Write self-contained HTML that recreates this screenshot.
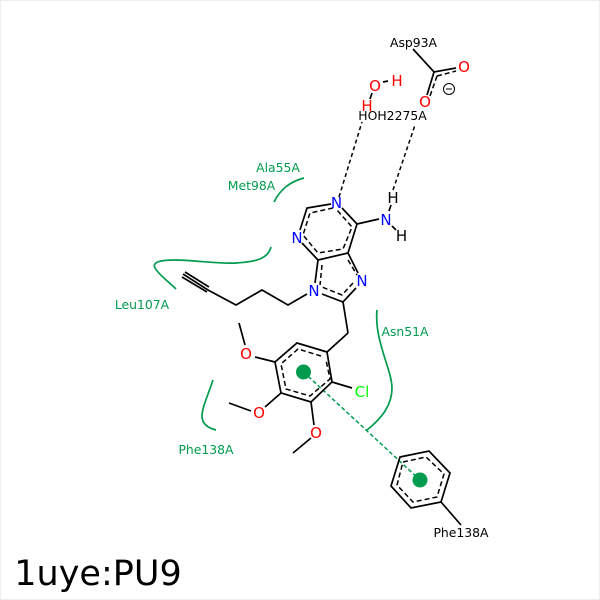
<!DOCTYPE html>
<html><head><meta charset="utf-8"><style>
html,body{margin:0;padding:0;background:#fff;width:600px;height:600px;overflow:hidden}
svg{display:block}
text{font-family:"DejaVu Sans",sans-serif;text-anchor:middle}
.a{font-size:15px}
.l{font-size:12.4px;fill:#000}
.g{font-size:12.4px;fill:#009b4e}
.s{stroke:#000;stroke-width:1.7;fill:none}
.d{stroke:#000;stroke-width:1.5;fill:none;stroke-dasharray:5 3}
.h{stroke:#000;stroke-width:1.5;fill:none;stroke-dasharray:4 3}
.c{stroke:#009b4e;stroke-width:1.7;fill:none}
</style></head><body>
<svg width="600" height="600" viewBox="0 0 600 600" xmlns="http://www.w3.org/2000/svg">
<rect x="0.5" y="0.5" width="599" height="599" fill="#fff" stroke="#eee"/>
<!-- green curves -->
<path class="c" d="M274 202C280 190 289 182 304 178"/>
<path class="c" d="M271 247C268 259 255 262 236 263C215 264 195 260 175 260C160 260 152 262 155 268C159 275 168 281 176 289"/>
<path class="c" d="M377 310C374 340 392 370 392 388C392 405 382 418 367 430"/>
<path class="c" d="M213 380C208 395 202 408 202 416C202 424 208 428 216 430"/>
<path d="M303.5 372L420 480" stroke="#009b4e" stroke-width="1.5" stroke-dasharray="4 2.5" fill="none"/>
<circle cx="303.5" cy="372" r="7.5" fill="#009b4e"/>
<circle cx="420" cy="480" r="7.5" fill="#009b4e"/>
<!-- purine -->
<path class="s" d="M331 204L307 208L300 230M302 243L318 260L348 253L357 224L342 208M357 224L379 219M348 253L358 273M356 288L343 302L322 294M318 260L315 283M343 302L348 333"/>
<path class="d" d="M333 208L310 213L303 235L318 253L343 249L352 227L337 210"/>
<path class="d" d="M348 260L357 275M353 283L342 295L322 287M322 265L320 285"/>
<path class="s" d="M389 211L391 205M392 226L396 230"/>
<!-- alkyl chain -->
<path class="s" d="M183 274L208 290L236 305L262 290L288 305L307 294"/>
<path class="s" d="M185 272L209 287M182 277L207 292" stroke-width="1.2"/>
<!-- trimethoxyphenyl -->
<path class="s" d="M348 333L327 352L297 343L275 362L281 393L311 402L332 382L327 352M332 382L352 388M275 362L255 357M239 323L245 345M281 393L265 407M229 403L251 411M311 402L314 425M293 453L311 438"/>
<path class="d" d="M321 356L298 349L281 364L286 389L310 396L330 379L326 360"/>
<!-- Phe138 -->
<path class="s" d="M400 457L429 451L450 473L441 502L411 508L391 486ZM441 502L461 525"/>
<path class="d" d="M403 462L426 457L444 474L437 497L413 502L397 485L403 462"/>
<!-- Asp93 and water -->
<path class="s" d="M413 49L434 72L456 68M434 72L427 95M370 99L372 93M383 82L388 81"/>
<path class="d" d="M437 76L456 71M437 76L430 96"/>
<path class="h" d="M339 197L362 122M393 190L415 125"/>
<circle cx="449" cy="89" r="5.5" fill="none" stroke="#000" stroke-width="1"/>
<path d="M446 89H452" stroke="#000" stroke-width="1"/>
<!-- atoms -->
<g class="a" fill="#00f">
<text x="336.5" y="208">N</text><text x="297" y="243">N</text><text x="386" y="225">N</text><text x="362" y="286">N</text><text x="314" y="296">N</text>
</g>
<g class="a" fill="#000"><text x="393" y="203">H</text><text x="401.5" y="241">H</text></g>
<g class="a" fill="#f00">
<text x="246" y="359">O</text><text x="259" y="418">O</text><text x="316" y="438">O</text><text x="464" y="72">O</text><text x="425" y="107">O</text><text x="375" y="91">O</text><text x="397" y="86">H</text><text x="367" y="111">H</text>
</g>
<text class="a" x="362" y="397" fill="#0f0">Cl</text>
<!-- labels -->
<text class="l" x="413.5" y="47">Asp93A</text>
<text class="l" x="392.5" y="120">HOH2275A</text>
<text class="l" x="461" y="537">Phe138A</text>
<text class="g" x="278" y="172">Ala55A</text>
<text class="g" x="251.5" y="190">Met98A</text>
<text class="g" x="142" y="309">Leu107A</text>
<text class="g" x="405" y="336">Asn51A</text>
<text class="g" x="206" y="454">Phe138A</text>
<text x="98" y="585" style="font-size:35px" fill="#000">1uye:PU9</text>
</svg>
</body></html>
